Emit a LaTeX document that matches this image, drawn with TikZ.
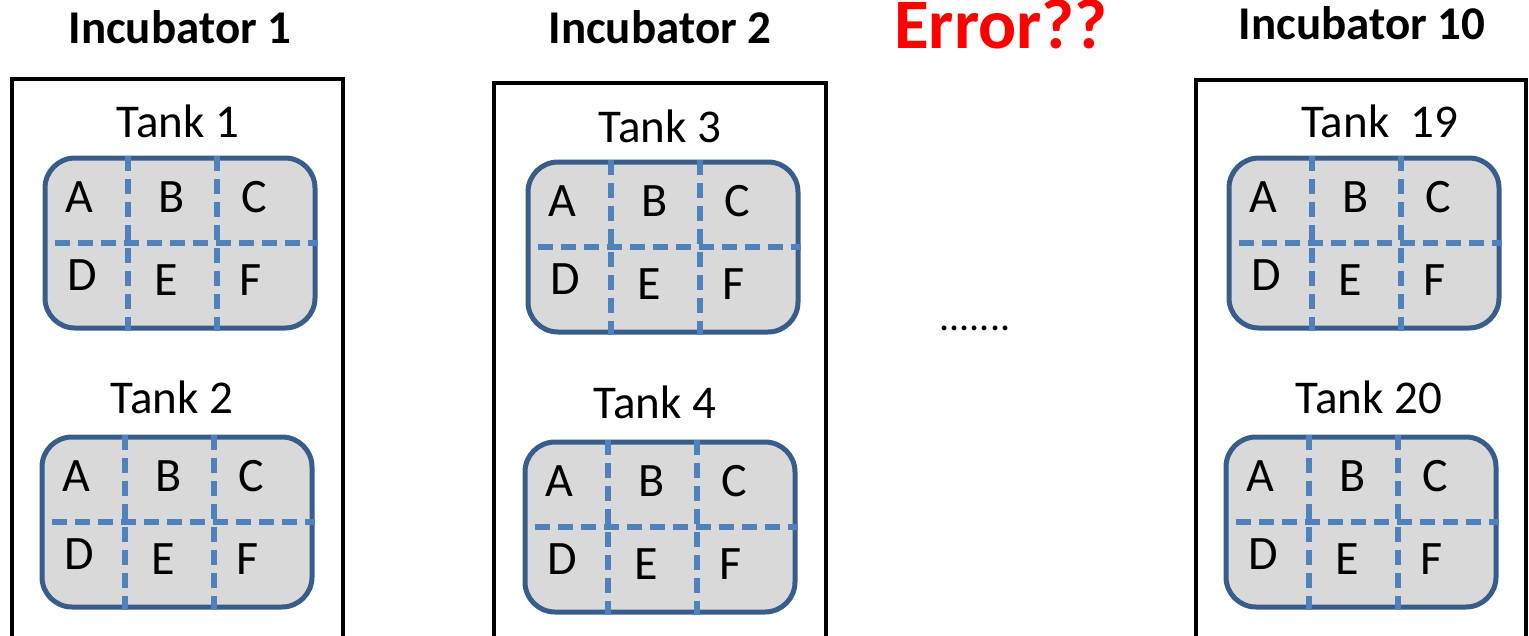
\documentclass[tikz,border=0pt]{standalone}
\usepackage{fontspec}
\setmainfont{Carlito}
\definecolor{tankedge}{HTML}{385D8A}
\definecolor{tankfill}{HTML}{D9D9D9}
\definecolor{divblue}{HTML}{4F81BD}
\begin{document}
\begin{tikzpicture}[x=1pt,y=-1pt,
  incub/.style={draw=black,line width=4.5pt},
  tankbox/.style={draw=tankedge,fill=tankfill,line width=5pt,rounded corners=30pt,
    minimum width=270pt,minimum height=170pt,inner sep=0pt},
  divider/.style={draw=divblue,line width=6pt,dash pattern=on 15pt off 8pt},
  cell/.style={font=\fontsize{48}{50}\selectfont,inner sep=0pt,anchor=base},
  tanklabel/.style={font=\fontsize{47}{50}\selectfont,inner sep=0pt,anchor=base},
  title/.style={font=\bfseries\fontsize{47}{50}\selectfont,inner sep=0pt,anchor=base}]
\useasboundingbox (0,0) rectangle (1529,635);
\clip (0,0) rectangle (1529,635);

% incubator titles
\node[title] (inc1) at (180,43) {Incubator 1};
\node[title] (inc2) at (660,43) {Incubator 2};
\node[title] (inc10) at (1362,39) {Incubator 10};
\node[title,text=red,font=\bfseries\fontsize{71}{74}\selectfont] (err) at (1001,48) {Error??};

% incubator walls (open at the bottom)
\coordinate (i1a) at (12,660);  \coordinate (i1b) at (12,79);  \coordinate (i1c) at (343,79);  \coordinate (i1d) at (343,660);
\coordinate (i2a) at (494,660); \coordinate (i2b) at (494,83); \coordinate (i2c) at (826,83); \coordinate (i2d) at (826,660);
\coordinate (i3a) at (1196,660); \coordinate (i3b) at (1196,80); \coordinate (i3c) at (1526,80); \coordinate (i3d) at (1526,660);
\draw[incub] (i1a) -- (i1b) -- (i1c) -- (i1d);
\draw[incub] (i2a) -- (i2b) -- (i2c) -- (i2d);
\draw[incub] (i3a) -- (i3b) -- (i3c) -- (i3d);

% tanks with their six compartments
\foreach \nm/\cx/\cy/\lx/\ly/\txt in {
    t1/180/243/178/137/{Tank 1},
    t2/177/522/172/413/{Tank 2},
    t3/663/247/660/142/{Tank 3},
    t4/660/527/655/418/{Tank 4},
    t19/1364/243/1380/137/{Tank~~19},
    t20/1361/522/1369/413/{Tank 20}} {
  \node[tanklabel] (\nm lbl) at (\lx,\ly) {\txt};
  \node[tankbox] (\nm) at (\cx,\cy) {};
  \draw[divider] ([xshift=85pt]\nm.north west) -- ([xshift=85pt]\nm.south west);
  \draw[divider] ([xshift=174pt]\nm.north west) -- ([xshift=174pt]\nm.south west);
  \draw[divider] ([xshift=12pt]\nm.west) -- (\nm.east);
  \node[cell] (\nm A) at ([xshift=37pt,yshift=-57pt]\nm.north west) {A};
  \node[cell] (\nm B) at ([xshift=129pt,yshift=-57pt]\nm.north west) {B};
  \node[cell] (\nm C) at ([xshift=212pt,yshift=-57pt]\nm.north west) {C};
  \node[cell] (\nm D) at ([xshift=40pt,yshift=-135pt]\nm.north west) {D};
  \node[cell] (\nm E) at ([xshift=124pt,yshift=-140pt]\nm.north west) {E};
  \node[cell] (\nm F) at ([xshift=208pt,yshift=-140pt]\nm.north west) {F};
}

% the incubators left out
\node[tanklabel,font=\fontsize{40}{44}\selectfont] (gap) at (975,330) {.......};
\end{tikzpicture}
\end{document}
